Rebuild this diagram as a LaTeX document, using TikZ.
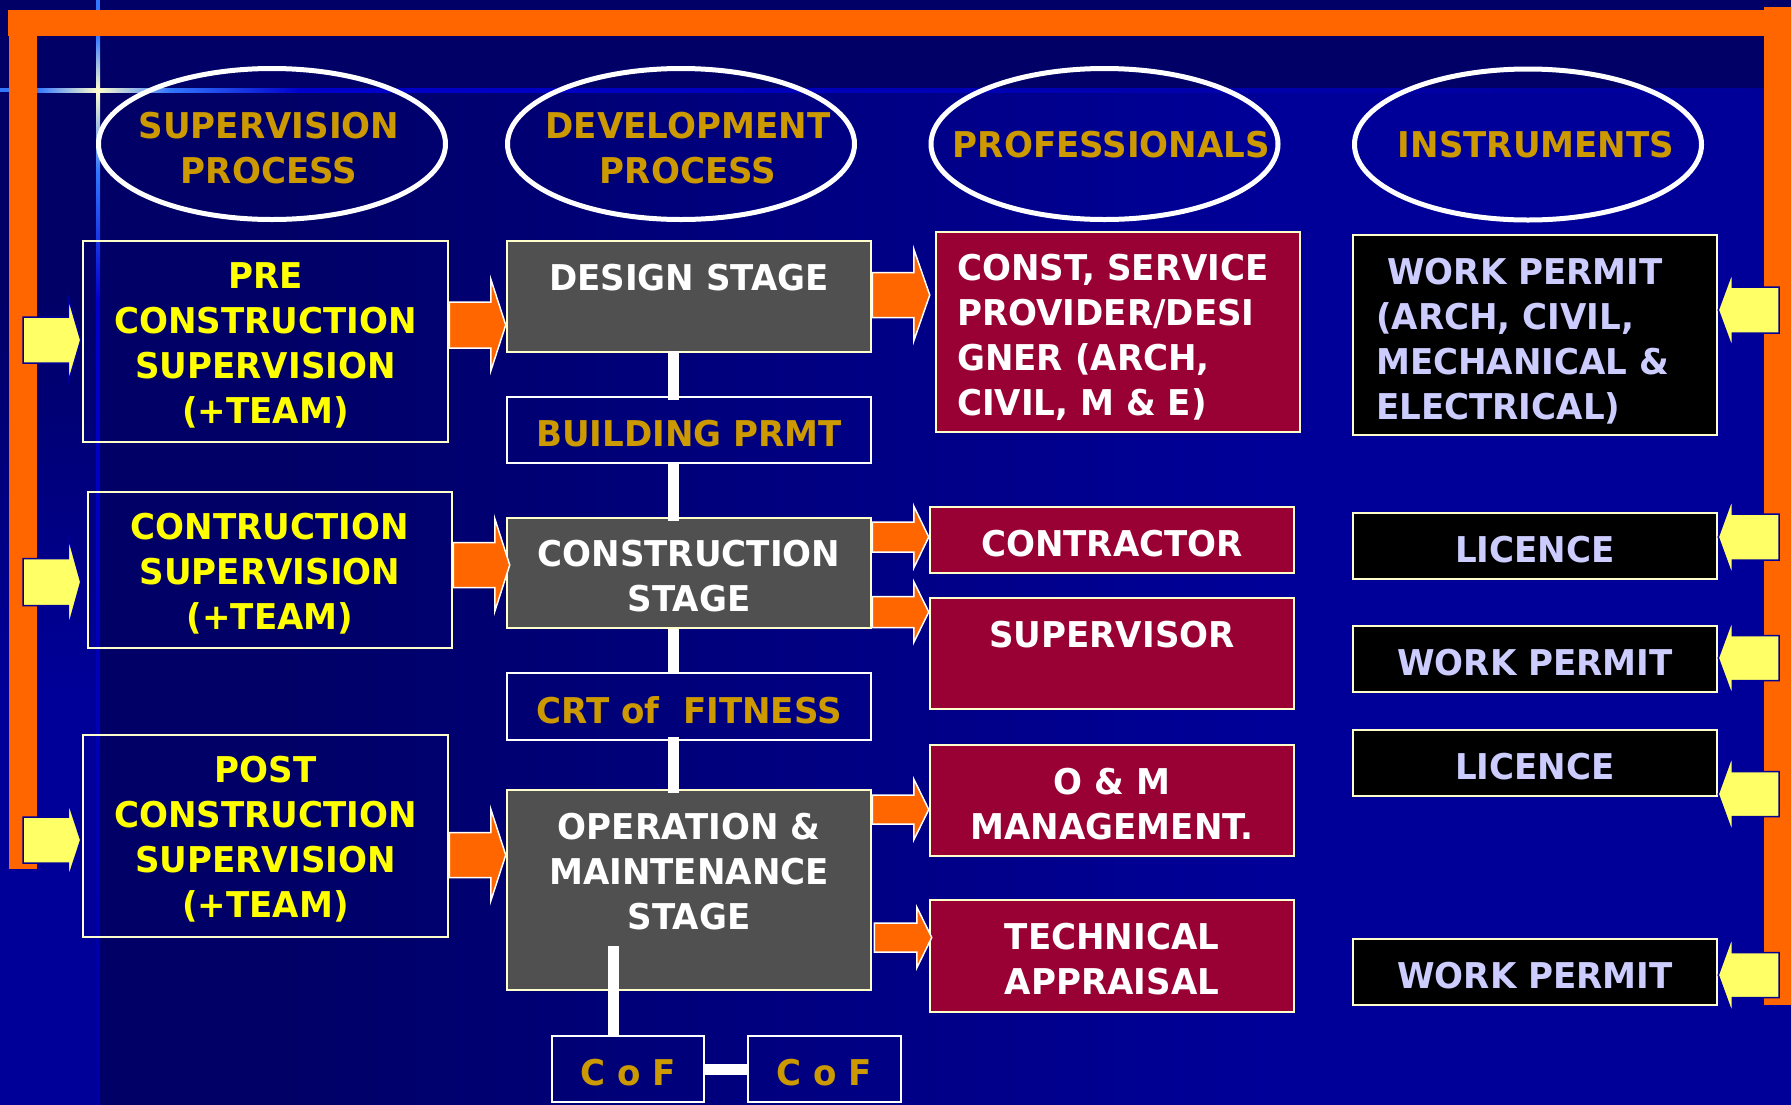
\documentclass[tikz,border=0pt]{standalone}
\usepackage{fontspec}
\setmainfont{DejaVu Sans}[FakeStretch=0.96]
\usetikzlibrary{shapes.geometric,calc}
\definecolor{bgA}{HTML}{000066}
\definecolor{bgB}{HTML}{000099}
\definecolor{frameor}{HTML}{FF6600}
\definecolor{arrowyel}{HTML}{FFFF66}
\definecolor{txtyel}{HTML}{FFFF00}
\definecolor{goldtxt}{HTML}{CC9900}
\definecolor{wine}{HTML}{990033}
\definecolor{stagegray}{HTML}{505050}
\definecolor{lav}{HTML}{CCCCFF}
\definecolor{cream}{HTML}{FFFFCC}
\definecolor{glowA}{HTML}{3377FF}
\definecolor{glowB}{HTML}{0000CC}
\definecolor{glowC}{HTML}{0000A0}
\pgfdeclarehorizontalshading{mainbg}{100bp}{color(0bp)=(bgA); color(30bp)=(bgA); color(60bp)=(bgB); color(100bp)=(bgB)}
\pgfdeclareverticalshading{leftbg}{100bp}{color(0bp)=(bgB); color(45bp)=(bgB); color(65bp)=(bgA); color(100bp)=(bgA)}
\tikzset{
 txt/.style={font=\bfseries\fontsize{35.5}{45}\selectfont, align=center, inner sep=0pt},
 navybox/.style={rectangle, draw=cream, line width=2.5pt, txt, text=txtyel},
 certbox/.style={rectangle, draw=white, line width=2.5pt, txt, text=goldtxt},
 stagebox/.style={rectangle, fill=stagegray, draw=cream, line width=2.5pt, txt, text=white},
 profbox/.style={rectangle, fill=wine, draw=cream, line width=2.5pt, txt, text=white},
 instbox/.style={rectangle, fill=black, draw=cream, line width=2.5pt, txt, text=lav},
 headoval/.style={ellipse, draw=white, line width=5pt, minimum width=347pt, minimum height=151pt, inner sep=0pt},
 headtxt/.style={txt, text=goldtxt, yshift=-1pt},
 freetxt/.style={txt, yshift=-1.5pt},
 oarrow/.style={fill=frameor, draw=white, line width=1.5pt},
 yarrow/.style={fill=arrowyel, draw=bgB, line width=1.5pt},
 conn/.style={draw=white, line width=11pt},
 orframe/.style={fill=frameor},
}
% box: name, x1, y1, x2, y2, style, text
\newcommand\mybox[7]{\node[#6, minimum width={(#4-#2)*1pt}, minimum height={(#5-#3)*1pt}] (#1) at ({(#2+#4)/2},{(#3+#5)/2}) {};
  \node[#6, draw=none, fill=none, minimum width=0pt, minimum height=0pt, yshift=-3.5pt] (#1-t) at (#1.center) {#7};}
\newcommand\blockarrow[6]{\path[#1] let \p1=#2, \p2=#3 in
  (\x1,{\y1+#4pt}) -- ({\x2-(#6pt)},{\y1+#4pt}) -- ({\x2-(#6pt)},{\y1+#5pt}) -- (\x2,\y1)
  -- ({\x2-(#6pt)},{\y1-#5pt}) -- ({\x2-(#6pt)},{\y1-#4pt}) -- (\x1,{\y1-#4pt}) -- cycle;}
\begin{document}
\begin{tikzpicture}[x=1pt,y=-1pt]
\useasboundingbox (0,0) rectangle (1791,1104);
% background
\fill[bgA] (0,0) rectangle (1791,1104);
\shade[shading=mainbg] (98,90) rectangle (1791,1104);
\shade[shading=leftbg] (0,90) rectangle (98,1104);
% glow cross
\fill[glowA] (0,88) rectangle (10,92);
\shade[left color=glowA, right color=cream] (37,88) rectangle (98,92);
\shade[left color=cream, right color=glowA] (98,88) rectangle (170,92);
\shade[left color=glowA, right color=glowB] (170,88) rectangle (300,92);
\shade[left color=glowB, right color=bgB] (300,88) rectangle (1764,92);
\fill[glowA] (96,0) rectangle (100,10);
\shade[top color=glowA, bottom color=cream] (96,36) rectangle (100,90);
\shade[top color=cream, bottom color=glowA] (96,90) rectangle (100,170);
\shade[top color=glowA, bottom color=glowB] (96,170) rectangle (100,300);
\shade[top color=glowB, bottom color=glowC] (96,300) rectangle (100,1104);
% orange frame
\fill[orframe] (8,10) rectangle (1764,36);
\fill[orframe] (9,10) rectangle (37,869);
\fill[orframe] (1764,7) rectangle (1791,1005);
% heading ovals
\node[headoval] (e1) at (272,144) {};
\node[headoval] (e2) at (681,144) {};
\node[headoval] (e3) at (1104.5,144) {};
\node[headoval] (e4) at (1528,144.5) {};
\node[headtxt] (e1t) at (269,147.5) {SUPERVISION\\PROCESS};
\node[headtxt] (e2t) at (688,147.5) {DEVELOPMENT\\PROCESS};
\node[headtxt] (e3t) at (1111.5,144) {PROFESSIONALS};
\node[headtxt] (e4t) at (1536,144) {INSTRUMENTS};
% boxes
\mybox{pre}{83}{241}{448}{442}{navybox}{PRE\\CONSTRUCTION\\SUPERVISION\\(+TEAM)}
\mybox{contr}{88}{492}{452}{648}{navybox}{CONTRUCTION\\SUPERVISION\\(+TEAM)}
\mybox{post}{83}{735}{448}{937}{navybox}{POST\\CONSTRUCTION\\SUPERVISION\\(+TEAM)}
\mybox{design}{507}{241}{871}{352}{stagebox}{}
\mybox{bprmt}{507}{397}{871}{463}{certbox}{BUILDING PRMT}
\mybox{cstage}{507}{518}{871}{628}{stagebox}{CONSTRUCTION\\STAGE}
\mybox{crt}{507}{673}{871}{740}{certbox}{CRT of\ \ FITNESS}
\mybox{ops}{507}{790}{871}{990}{stagebox}{}
\mybox{cof1}{552}{1036}{704}{1102}{certbox}{C o F}
\mybox{cof2}{748}{1036}{901}{1102}{certbox}{C o F}
\mybox{p1}{936}{232}{1300}{432}{profbox}{}
\mybox{contractor}{930}{507}{1294}{573}{profbox}{CONTRACTOR}
\mybox{supervisor}{930}{598}{1294}{709}{profbox}{}
\mybox{om}{930}{745}{1294}{856}{profbox}{O \& M\\MANAGEMENT.}
\mybox{tech}{930}{900}{1294}{1012}{profbox}{TECHNICAL\\APPRAISAL}
\mybox{wp1}{1353}{235}{1717}{435}{instbox}{}
\mybox{lic1}{1353}{513}{1717}{579}{instbox}{LICENCE}
\mybox{wp2}{1353}{626}{1717}{692}{instbox}{WORK PERMIT}
\mybox{lic2}{1353}{730}{1717}{796}{instbox}{LICENCE}
\mybox{wp3}{1353}{939}{1717}{1005}{instbox}{WORK PERMIT}
% white connectors
\draw[conn, shorten <=-2pt, shorten >=-4pt] ([xshift=-15.5pt]design.south) -- ([xshift=-15.5pt]bprmt.north);
\draw[conn, shorten <=-2pt, shorten >=-4pt] ([xshift=-15.5pt]bprmt.south) -- ([xshift=-15.5pt]cstage.north);
\draw[conn, shorten >=-2pt] ([xshift=-15.5pt]cstage.south) -- ([xshift=-15.5pt]crt.north);
\draw[conn, shorten <=-4pt, shorten >=-4pt] ([xshift=-15.5pt]crt.south) -- ([xshift=-15.5pt]ops.north);
\coordinate (opsfoot) at (613,946);
\draw[conn] (opsfoot) -- (opsfoot |- cof1.north);
\draw[conn] (cof1.east) -- (cof2.west);
% orange block arrows
\blockarrow{oarrow}{(pre.east |- 0,325)}{(design.west)}{23}{46}{15}
\blockarrow{oarrow}{(contr.east |- 0,565)}{($(cstage.west)+(4,0)$)}{22.5}{46.5}{15}
\blockarrow{oarrow}{(post.east |- 0,855)}{(ops.west)}{22.5}{46}{15}
\blockarrow{oarrow}{(design.east |- 0,295)}{($(p1.west)+(-5,0)$)}{22.5}{46}{16}
\blockarrow{oarrow}{(cstage.east |- 0,537)}{(contractor.west)}{15}{31}{15}
\blockarrow{oarrow}{(cstage.east |- 0,612)}{(supervisor.west)}{15.5}{30.5}{15}
\blockarrow{oarrow}{(ops.east |- 0,809.5)}{(om.west)}{14.5}{30.5}{15}
\blockarrow{oarrow}{($(ops.east |- 0,937.5)+(2,0)$)}{($(tech.west)+(3,0)$)}{14.5}{30.5}{15}
% yellow block arrows
\coordinate (lefttail) at (23,0);
\coordinate (righttail) at (1779,0);
\blockarrow{yarrow}{(lefttail |- 0,340)}{($(pre.west)+(-1,0)$)}{23}{42.5}{12.5}
\blockarrow{yarrow}{(lefttail |- 0,582)}{($(contr.west)+(-6,0)$)}{23.5}{45}{12.5}
\blockarrow{yarrow}{(lefttail |- 0,840)}{($(post.west)+(-1,0)$)}{23}{38}{12.5}
\blockarrow{yarrow}{(righttail |- 0,310)}{(wp1.east)}{23}{38}{-14}
\blockarrow{yarrow}{(righttail |- 0,537)}{(lic1.east)}{23}{38.5}{-14}
\blockarrow{yarrow}{(righttail |- 0,658)}{(wp2.east)}{22.5}{38}{-14}
\blockarrow{yarrow}{(righttail |- 0,794)}{(lic2.east)}{22.5}{38.5}{-14}
\blockarrow{yarrow}{(righttail |- 0,975)}{(wp3.east)}{22.5}{38.5}{-14}
% texts placed off centre
\node[freetxt, text=white] (designt) at (689,276) {DESIGN STAGE};
\node[freetxt, text=white] (supt) at (1112,633) {SUPERVISOR};
\node[freetxt, text=white] (opst) at (689,870) {OPERATION \&\\MAINTENANCE\\STAGE};
\node[freetxt, text=white, align=left, anchor=west] (p1t) at (957,335.5) {CONST, SERVICE\\PROVIDER/DESI\\GNER (ARCH,\\CIVIL, M \& E)};
\node[freetxt, text=lav, align=left, anchor=west] (wp1t) at (1376,339.5) {\hspace*{11pt}WORK PERMIT\\(ARCH, CIVIL,\\MECHANICAL \&\\ELECTRICAL)};
\end{tikzpicture}
\end{document}
